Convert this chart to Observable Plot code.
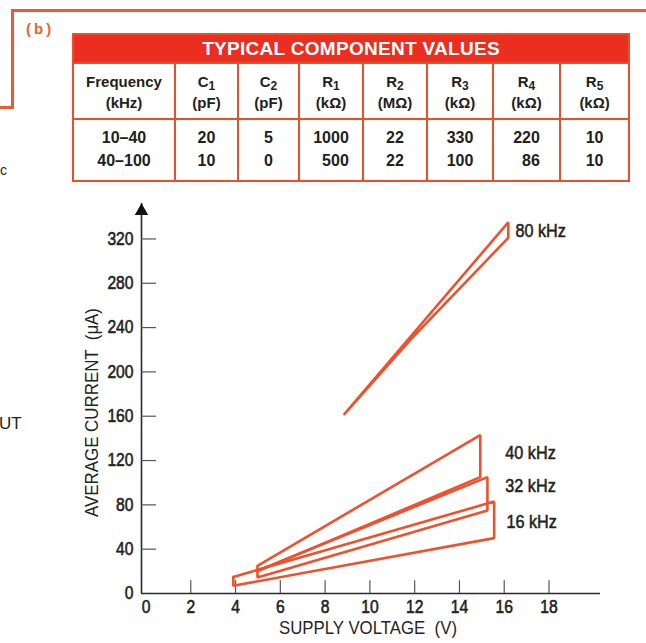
<!DOCTYPE html>
<html><head><meta charset="utf-8">
<script src="https://cdn.jsdelivr.net/npm/d3@7"></script>
<script src="https://cdn.jsdelivr.net/npm/@observablehq/plot@0.6"></script>
<style>
body{margin:0;background:#fff;}
#page{position:relative;width:646px;height:643px;overflow:hidden;background:#fff;color:#1e231e;font-family:"Liberation Sans",Arial,sans-serif;}
.frameTop{position:absolute;left:11px;top:9px;width:640px;height:0;border-top:3px solid #f0592e;}
.frameLeft{position:absolute;left:11px;top:9px;width:0;height:99px;border-left:3px solid #f0592e;}
.frameBot{position:absolute;left:0;top:106px;width:14px;height:0;border-top:3px solid #f0592e;}
.partLabel{position:absolute;left:26px;top:20px;color:#f0602f;font-weight:bold;font-size:15px;letter-spacing:3px;}
.stray{position:absolute;color:#222;font-family:"Liberation Sans",Arial,sans-serif;}
#tbl{position:absolute;left:72px;top:33px;width:556px;border-collapse:collapse;table-layout:fixed;font-weight:bold;color:#1d221d;}
#tbl td{border:2px solid #ea4f2b;padding:0;text-align:center;vertical-align:middle;}
#tbl td.title{background:#ec2e20;color:#fff;height:27px;font-size:19px;letter-spacing:0.3px;}
#tbl tr.head td{height:52px;font-size:15px;line-height:21px;padding-top:2px;}
#tbl tr.data td{height:58px;font-size:16px;line-height:23px;padding-bottom:2px;}
#tbl sub{font-size:80%;vertical-align:-3px;line-height:0;}
#tbl .stack{display:inline-block;text-align:right;}
#chart{position:absolute;left:0;top:190px;}
#chart svg text{font-family:"Liberation Sans",Arial,sans-serif;font-weight:normal;}
g[aria-label="y-axis tick label"] text, g[aria-label="x-axis tick label"] text{stroke:#1f241f;stroke-width:0.6px;}
</style></head>
<body><div id="page">
<div class="frameTop"></div><div class="frameLeft"></div><div class="frameBot"></div>
<div class="partLabel">(b)</div>
<div class="stray" style="left:0;top:162px;font-size:14px;">c</div>
<div class="stray" style="left:-1px;top:414px;font-size:17px;">UT</div>
<table id="tbl"></table>
<div id="chart"></div>
</div>
<script>
// ---- Table data ----
const tableTitle = "TYPICAL COMPONENT VALUES";
const headSymbols = ["Frequency","C","C","R","R","R","R","R"];
const headSubs = ["","1","2","1","2","3","4","5"];
const headUnits = ["(kHz)","(pF)","(pF)","(kΩ)","(MΩ)","(kΩ)","(kΩ)","(kΩ)"];
const frequencyRanges = ["10–40","40–100"];
const c1Values = [20, 10];
const c2Values = [5, 0];
const r1Values = [1000, 500];
const r2Values = [22, 22];
const r3Values = [330, 100];
const r4Values = [220, 86];
const r5Values = [10, 10];

// ---- Chart data (supply voltage V, average current µA) ----
const loop80Voltage = [8.86, 16.18, 16.18, 11.9, 8.86];
const loop80Current = [162, 335, 321, 231, 162];
const loop40Voltage = [4.98, 14.93, 14.93, 4.98, 4.98];
const loop40Current = [25, 143, 105, 20, 25];
const loop32Voltage = [4.98, 15.25, 15.25, 4.98, 4.98];
const loop32Current = [20.5, 105, 75, 14.5, 20.5];
const loop16Voltage = [3.9, 15.55, 15.55, 3.9, 3.9];
const loop16Current = [15, 83, 50, 7, 15];
const seriesNames = ["80 kHz","40 kHz","32 kHz","16 kHz"];
const labelVoltage = [16.5, 16.05, 16.05, 16.1];
const labelCurrent = [327, 127, 97, 64];
const xTicks = [0,2,4,6,8,10,12,14,16,18];
const yTicks = [0,40,80,120,160,200,240,280,320];
const xTitle = "SUPPLY VOLTAGE  (V)";
const yTitle = "AVERAGE CURRENT  (μA)";

// ---- Build table ----
const colWidths = [102,63,61,64,64,66,67,69];
const tbl = document.getElementById("tbl");
const cg = document.createElement("colgroup");
colWidths.forEach(w => { const c = document.createElement("col"); c.style.width = w + "px"; cg.appendChild(c); });
tbl.appendChild(cg);
const trT = document.createElement("tr");
const tdT = document.createElement("td"); tdT.colSpan = 8; tdT.className = "title"; tdT.textContent = tableTitle;
trT.appendChild(tdT); tbl.appendChild(trT);
const trH = document.createElement("tr"); trH.className = "head";
headSymbols.forEach((s, k) => {
  const td = document.createElement("td");
  td.innerHTML = s + (headSubs[k] ? "<sub>" + headSubs[k] + "</sub>" : "") + "<br>" + headUnits[k];
  trH.appendChild(td);
});
tbl.appendChild(trH);
const columns = [frequencyRanges, c1Values, c2Values, r1Values, r2Values, r3Values, r4Values, r5Values];
const trD = document.createElement("tr"); trD.className = "data";
columns.forEach((col, k) => {
  const td = document.createElement("td");
  const sp = document.createElement("span");
  sp.className = "stack";
  if (k === 0) sp.style.textAlign = "center";
  sp.innerHTML = col.join("<br>");
  td.appendChild(sp);
  trD.appendChild(td);
});
tbl.appendChild(trD);

// ---- Build chart ----
const loops = [
  {name: seriesNames[0], v: loop80Voltage, i: loop80Current},
  {name: seriesNames[1], v: loop40Voltage, i: loop40Current},
  {name: seriesNames[2], v: loop32Voltage, i: loop32Current},
  {name: seriesNames[3], v: loop16Voltage, i: loop16Current}
];
const points = loops.flatMap(l => l.v.map((v, k) => ({name: l.name, v, i: l.i[k]})));
const labels = seriesNames.map((n, k) => ({name: n, v: labelVoltage[k], i: labelCurrent[k]}));
const xDomain = [-0.2, 20.3];
const yDomain = [0, 352];
const ink = "#1f241f";

const chart = Plot.plot({
  width: 646,
  height: 453,
  marginLeft: 141,
  marginRight: 46,
  marginTop: 13,
  marginBottom: 50,
  x: {domain: xDomain},
  y: {domain: yDomain},
  style: {fontSize: "18px", color: ink, background: "transparent"},
  marks: [
    Plot.ruleX([xDomain[0]], {stroke: "#2a2a2a", strokeWidth: 1.6}),
    Plot.ruleY([0], {stroke: "#2a2a2a", strokeWidth: 1.6}),
    Plot.ruleY(yTicks.filter(d => d > 0), {y: d => d, x1: xDomain[0], x2: xDomain[0] + 0.67, stroke: "#555", strokeWidth: 1.2}),
    Plot.ruleX(xTicks.filter(d => d > 0), {x: d => d, y1: 0, y2: 11.5, stroke: "#555", strokeWidth: 1.2}),
    Plot.dot([{v: xDomain[0], i: yDomain[1]}], {x: "v", y: "i", symbol: "triangle", r: 5, fill: "#111", stroke: "none", dy: 7.5}),
    Plot.axisY({ticks: yTicks, tickSize: 0, tickPadding: 8, label: null, fontSize: 18, fill: ink}),
    Plot.axisX({ticks: xTicks, tickSize: 0, tickPadding: 7, label: null, fontSize: 18, fill: ink}),
    Plot.line(points, {x: "v", y: "i", z: "name", stroke: "#f0502b", strokeWidth: 2.6, strokeLinejoin: "miter", strokeLinecap: "round"}),
    Plot.text(labels, {x: "v", y: "i", text: "name", textAnchor: "start", fontSize: 18, fill: ink}),
    Plot.text([yTitle], {frameAnchor: "left", textAnchor: "middle", lineAnchor: "middle", rotate: -90, dx: -49, dy: 14, fontSize: 18, fill: ink}),
    Plot.text([xTitle], {frameAnchor: "bottom", textAnchor: "middle", lineAnchor: "middle", dx: -3, dy: 35, fontSize: 18, fill: ink})
  ]
});
document.getElementById("chart").appendChild(chart);

// condensed look (the original uses a condensed grotesque face)
function squeeze(t, factor) {
  const w = t.getComputedTextLength();
  t.setAttribute("textLength", (w * factor).toFixed(1));
  t.setAttribute("lengthAdjust", "spacingAndGlyphs");
}
chart.querySelectorAll('g[aria-label="y-axis tick label"] text, g[aria-label="x-axis tick label"] text').forEach(t => squeeze(t, 0.87));
chart.querySelectorAll("text").forEach(t => {
  const s = t.textContent;
  if (seriesNames.includes(s)) {
    squeeze(t, 0.9);
    t.style.stroke = ink; t.style.strokeWidth = "0.55px";
  } else if (s === xTitle) {
    t.setAttribute("textLength", "178");
    t.setAttribute("lengthAdjust", "spacingAndGlyphs");
  } else if (s === yTitle) {
    t.setAttribute("textLength", "209");
    t.setAttribute("lengthAdjust", "spacingAndGlyphs");
  }
});
</script>
</body></html>
